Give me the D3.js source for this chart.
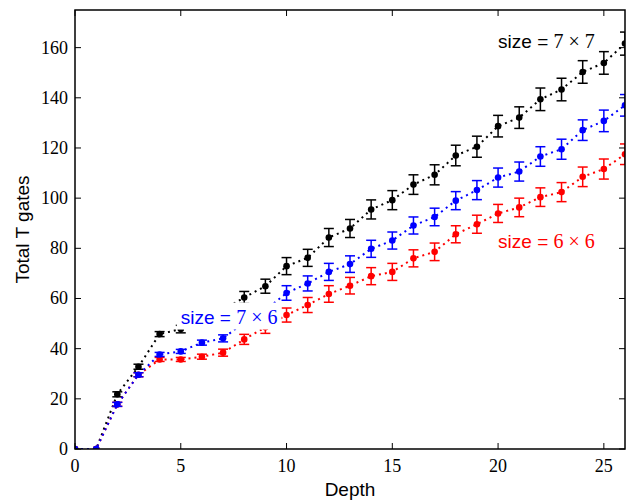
<!DOCTYPE html>
<html>
<head>
<meta charset="utf-8">
<script src="https://cdn.jsdelivr.net/npm/d3@7"></script>
<style>
  body { margin: 0; background: #fff; }
  svg { display: block; }
</style>
</head>
<body>
<svg id="chart"></svg>
<script>
// Depth values (x axis)
var depths = [0, 1, 2, 3, 4, 5, 6, 7, 8, 9, 10, 11, 12, 13, 14, 15, 16, 17, 18, 19, 20, 21, 22, 23, 24, 25, 26];

// Total T gates, size = 7 x 7
var gates7x7 = [0, 0, 21.8, 32.8, 45.8, 47.8, 51.5, 55.5, 60.4, 64.9, 72.9, 76.2, 84.3, 87.9, 95.5, 99.2, 105.4, 109.3, 117, 120.5, 128.7, 132.1, 139.4, 143.3, 150.3, 153.9, 161.6];
var err7x7 = [0, 0, 1, 1, 1, 1.5, 1.5, 2, 2.4, 2.8, 3.4, 3.4, 3.6, 3.6, 3.8, 3.8, 3.9, 4, 4.1, 4.2, 4.3, 4.3, 4.5, 4.5, 4.5, 4.5, 4.6];

// Total T gates, size = 7 x 6
var gates7x6 = [0, 0, 17.8, 29.6, 37.7, 38.9, 42.4, 44.1, 50.5, 55.3, 62.2, 66, 70.6, 73.7, 79.8, 83.1, 89.1, 92.5, 99, 103.2, 108.2, 110.6, 116.6, 119.5, 127.1, 130.8, 137];
var err7x6 = [0, 0, 0.8, 0.8, 0.8, 0.8, 1, 1.4, 2, 2.5, 2.9, 3, 3.4, 3.3, 3.4, 3.4, 3.4, 3.5, 3.6, 3.8, 3.8, 3.8, 3.9, 4, 4.1, 4.3, 4.3];

// Total T gates, size = 6 x 6
var gates6x6 = [0, 0, 17.8, 29.6, 35.7, 35.7, 36.8, 38.4, 43.7, 48.5, 53.4, 57.4, 61.8, 65.1, 68.9, 70.6, 76, 78.6, 85.6, 89.6, 93.9, 96.3, 100.4, 102.4, 108.5, 111.6, 117.5];
var err6x6 = [0, 0, 0.8, 0.8, 0.8, 0.8, 1, 1.4, 2, 2.4, 2.8, 3, 3.3, 3.3, 3.4, 3.4, 3.4, 3.5, 3.4, 3.6, 3.6, 3.7, 3.7, 3.8, 3.9, 4, 4.1];

// Tick labels
var xTicks = [0, 5, 10, 15, 20, 25];
var yTicks = [0, 20, 40, 60, 80, 100, 120, 140, 160];

// Annotations in data coordinates
var labelText = ["7 \u00d7 7", "7 \u00d7 6", "6 \u00d7 6"];
var labelX = [20, 5, 20];
var labelY = [160, 50, 80];

var width = 626, height = 500;
var margin = { left: 75, right: 1, top: 10, bottom: 51 };

var svg = d3.select("#chart")
    .attr("width", width)
    .attr("height", height);

var x = d3.scaleLinear().domain([0, 26]).range([margin.left, width - margin.right]);
var y = d3.scaleLinear().domain([0, 175]).range([height - margin.bottom, margin.top]);

// Clip the data to the plot area
svg.append("clipPath").attr("id", "plot-clip")
  .append("rect")
    .attr("x", x(0)).attr("y", y(175))
    .attr("width", x(26) - x(0)).attr("height", y(0) - y(175));

var series = [
    { values: gates7x7, errs: err7x7, color: "#000000" },
    { values: gates6x6, errs: err6x6, color: "#ff0000" },
    { values: gates7x6, errs: err7x6, color: "#0000ff" }
];

var plot = svg.append("g").attr("clip-path", "url(#plot-clip)");

var line = d3.line()
    .x(function(d) { return x(d.depth); })
    .y(function(d) { return y(d.value); });

series.forEach(function(s) {
    var pts = depths.map(function(dp, i) { return { depth: dp, value: s.values[i], err: s.errs[i] }; });
    var g = plot.append("g");

    // dotted line
    g.append("path")
        .datum(pts)
        .attr("d", line)
        .style("fill", "none")
        .style("stroke", s.color)
        .style("stroke-width", 2)
        .style("stroke-dasharray", "2,4");

    // error bars
    var eb = g.selectAll(".err")
        .data(pts.filter(function(d) { return d.err > 0; }))
        .enter().append("g");
    eb.append("line")
        .attr("x1", function(d) { return x(d.depth); })
        .attr("x2", function(d) { return x(d.depth); })
        .attr("y1", function(d) { return y(d.value - d.err); })
        .attr("y2", function(d) { return y(d.value + d.err); })
        .style("stroke", s.color).style("stroke-width", 1.5);
    [-1, 1].forEach(function(sign) {
        eb.append("line")
            .attr("x1", function(d) { return x(d.depth) - 5; })
            .attr("x2", function(d) { return x(d.depth) + 5; })
            .attr("y1", function(d) { return y(d.value + sign * d.err); })
            .attr("y2", function(d) { return y(d.value + sign * d.err); })
            .style("stroke", s.color).style("stroke-width", 1.5);
    });

    // markers
    g.selectAll(".dot")
        .data(pts)
        .enter().append("circle")
        .attr("cx", function(d) { return x(d.depth); })
        .attr("cy", function(d) { return y(d.value); })
        .attr("r", 3.3)
        .style("fill", s.color);
});

// Annotations with white box
var labelColors = ["#000000", "#0000ff", "#ff0000"];
labelText.forEach(function(t, i) {
    var g = svg.append("g");
    var rect = g.append("rect").style("fill", "#fff");
    var txt = g.append("text")
        .attr("x", x(labelX[i]))
        .attr("y", y(labelY[i]))
        .style("fill", labelColors[i])
        .style("font-size", "19px");
    txt.append("tspan").style("font-family", "'Liberation Sans', Arial, sans-serif").text("size = ");
    txt.append("tspan").style("font-family", "'Liberation Serif', serif").style("font-size", "20px").text(t);
    var bb = txt.node().getBBox();
    rect.attr("x", bb.x - 4).attr("y", bb.y - 3).attr("width", bb.width + 8).attr("height", bb.height + 5);
});

// Frame
svg.append("rect")
    .attr("x", x(0)).attr("y", y(175))
    .attr("width", x(26) - x(0)).attr("height", y(0) - y(175))
    .style("fill", "none").style("stroke", "#000").style("stroke-width", 1.5);

// Ticks (inward, all sides)
var tickLen = 6;
xTicks.forEach(function(t) {
    svg.append("line").attr("x1", x(t)).attr("x2", x(t)).attr("y1", y(0)).attr("y2", y(0) - tickLen)
        .style("stroke", "#000").style("stroke-width", 1);
    svg.append("line").attr("x1", x(t)).attr("x2", x(t)).attr("y1", y(175)).attr("y2", y(175) + tickLen)
        .style("stroke", "#000").style("stroke-width", 1);
});
yTicks.forEach(function(t) {
    svg.append("line").attr("x1", x(0)).attr("x2", x(0) + tickLen).attr("y1", y(t)).attr("y2", y(t))
        .style("stroke", "#000").style("stroke-width", 1);
    svg.append("line").attr("x1", x(26)).attr("x2", x(26) - tickLen).attr("y1", y(t)).attr("y2", y(t))
        .style("stroke", "#000").style("stroke-width", 1);
});

// Tick labels
svg.selectAll(".xtick")
    .data(xTicks)
    .enter().append("text")
    .attr("x", function(d) { return x(d); })
    .attr("y", y(0) + 23)
    .attr("text-anchor", "middle")
    .style("font-family", "'Liberation Serif', serif")
    .style("font-size", "18px")
    .text(function(d) { return d; });

svg.selectAll(".ytick")
    .data(yTicks)
    .enter().append("text")
    .attr("x", x(0) - 7)
    .attr("y", function(d) { return y(d); })
    .attr("dy", "0.33em")
    .attr("text-anchor", "end")
    .style("font-family", "'Liberation Serif', serif")
    .style("font-size", "18px")
    .text(function(d) { return d; });

// Axis titles
svg.append("text")
    .attr("x", (x(0) + x(26)) / 2)
    .attr("y", 496)
    .attr("text-anchor", "middle")
    .style("font-family", "'Liberation Sans', Arial, sans-serif")
    .style("font-size", "19px")
    .text("Depth");

svg.append("text")
    .attr("transform", "translate(29," + ((y(0) + y(175)) / 2) + ") rotate(-90)")
    .attr("text-anchor", "middle")
    .style("font-family", "'Liberation Sans', Arial, sans-serif")
    .style("font-size", "19px")
    .text("Total T gates");
</script>
</body>
</html>
